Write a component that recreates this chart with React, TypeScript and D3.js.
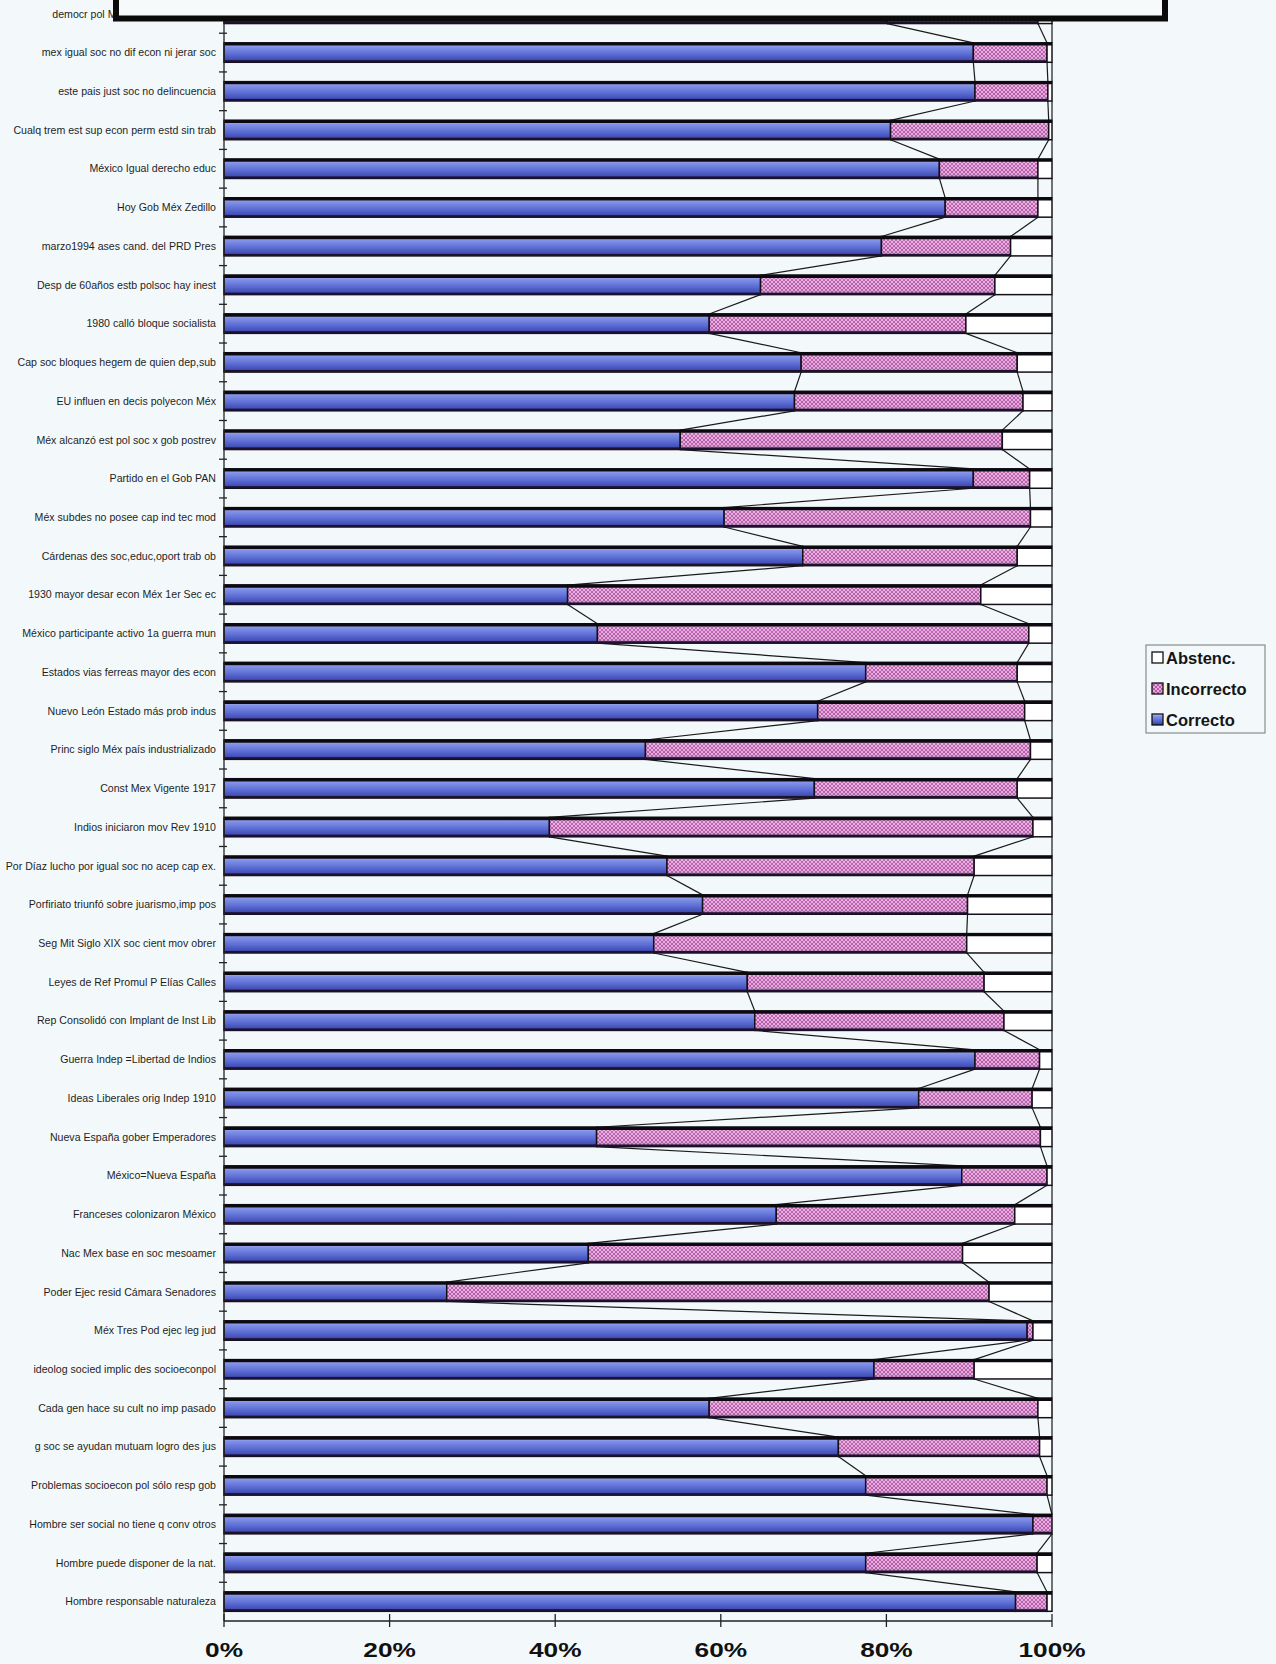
import React, { useEffect, useRef } from 'react'
import * as d3 from 'd3'

// categories, top to bottom (as printed)
const categories = [
  'democr pol Méx elecc libres transp',
  'mex igual soc no dif econ ni jerar soc',
  'este pais just soc no delincuencia',
  'Cualq trem est sup econ perm estd sin trab',
  'México Igual derecho educ',
  'Hoy Gob Méx Zedillo',
  'marzo1994 ases cand. del PRD Pres',
  'Desp de 60años estb polsoc hay inest',
  '1980 calló bloque socialista',
  'Cap soc bloques hegem de quien dep,sub',
  'EU influen en decis polyecon Méx',
  'Méx alcanzó est pol soc x gob postrev',
  'Partido en el Gob PAN',
  'Méx subdes no posee cap ind tec mod',
  'Cárdenas des soc,educ,oport trab ob',
  '1930 mayor desar econ Méx 1er Sec ec',
  'México participante activo 1a guerra mun',
  'Estados vias ferreas mayor des econ',
  'Nuevo León Estado más prob indus',
  'Princ siglo Méx país industrializado',
  'Const Mex Vigente 1917',
  'Indios iniciaron mov Rev 1910',
  'Por Díaz lucho por igual soc no acep cap ex.',
  'Porfiriato triunfó sobre juarismo,imp pos',
  'Seg Mit Siglo XIX soc cient mov obrer',
  'Leyes de Ref Promul P Elías Calles',
  'Rep Consolidó con Implant de Inst Lib',
  'Guerra Indep =Libertad de Indios',
  'Ideas Liberales orig Indep 1910',
  'Nueva España gober Emperadores',
  'México=Nueva España',
  'Franceses colonizaron México',
  'Nac Mex base en soc mesoamer',
  'Poder Ejec resid Cámara Senadores',
  'Méx Tres Pod ejec leg jud',
  'ideolog socied implic des socioeconpol',
  'Cada gen hace su cult no imp pasado',
  'g soc se ayudan mutuam logro des jus',
  'Problemas socioecon pol sólo resp gob',
  'Hombre ser social no tiene q conv otros',
  'Hombre puede disponer de la nat.',
  'Hombre responsable naturaleza',
]

const correcto = [
  80.1, 90.5, 90.7, 80.5, 86.4, 87.1, 79.4, 64.8, 58.6, 69.7, 68.9, 55.1, 90.5, 60.4,
  69.9, 41.5, 45.1, 77.5, 71.7, 50.9, 71.3, 39.3, 53.5, 57.8, 51.9, 63.2, 64.1, 90.7,
  83.9, 45.0, 89.1, 66.7, 44.0, 26.9, 97.0, 78.5, 58.6, 74.2, 77.5, 97.7, 77.5, 95.6,
]
const incorrecto = [
  18.2, 8.9, 8.8, 19.1, 11.9, 11.2, 15.6, 28.3, 31.0, 26.1, 27.6, 38.9, 6.8, 37.0,
  25.9, 49.9, 52.1, 18.3, 25.0, 46.5, 24.5, 58.4, 37.1, 32.0, 37.8, 28.6, 30.1, 7.8,
  13.7, 53.6, 10.3, 28.8, 45.2, 65.5, 0.7, 12.1, 39.7, 24.3, 21.9, 2.3, 20.7, 3.8,
]
const abstenc = [
  1.7, 0.6, 0.5, 0.4, 1.7, 1.7, 5.0, 6.9, 10.4, 4.2, 3.5, 6.0, 2.7, 2.6,
  4.2, 8.6, 2.8, 4.2, 3.3, 2.6, 4.2, 2.3, 9.4, 10.2, 10.3, 8.2, 5.8, 1.5,
  2.4, 1.4, 0.6, 4.5, 10.8, 7.6, 2.3, 9.4, 1.7, 1.5, 0.6, 0.0, 1.8, 0.6,
]

const seriesNames = ['Correcto', 'Incorrecto', 'Abstenc.']
const xTickValues = [0, 20, 40, 60, 80, 100]

const W = 1276
const H = 1664
const BG = '#f3f9fb'
const FONT = 'Arial, "Liberation Sans", sans-serif'

export default function App() {
  const svgRef = useRef<SVGSVGElement>(null)

  useEffect(() => {
    if (!svgRef.current) return
    const svg = d3.select(svgRef.current)
    svg.selectAll('*').remove()

    const x = d3.scaleLinear().domain([0, 100]).range([224, 1052])
    const y = d3.scaleBand<string>()
      .domain(categories)
      .range([-5.5, 1621])
      .paddingInner(0.5)
      .paddingOuter(0.25)
    const bw = y.bandwidth()
    const step = y.step()

    const defs = svg.append('defs')

    // blue gradient for Correcto
    const blue = defs.append('linearGradient')
      .attr('id', 'blueGrad')
      .attr('x1', 0).attr('y1', 0).attr('x2', 0).attr('y2', 1)
    ;[
      [0, '#c4ccf7'], [0.2, '#8393e8'], [0.55, '#5f70d6'], [0.85, '#4250b8'], [1, '#1c1f5c'],
    ].forEach(([o, c]) => blue.append('stop').attr('offset', o as number).attr('stop-color', c as string))

    // pink hatch for Incorrecto
    const pink = defs.append('pattern')
      .attr('id', 'pinkHatch')
      .attr('patternUnits', 'userSpaceOnUse')
      .attr('width', 4).attr('height', 4)
    pink.append('rect').attr('width', 4).attr('height', 4).attr('fill', '#e6aade')
    pink.append('path')
      .attr('d', 'M0,0 L4,4 M4,0 L0,4')
      .attr('stroke', '#b052a2')
      .attr('stroke-width', 0.9)

    const shade = defs.append('linearGradient')
      .attr('id', 'shade')
      .attr('x1', 0).attr('y1', 0).attr('x2', 0).attr('y2', 1)
    shade.append('stop').attr('offset', 0).attr('stop-color', '#ffffff').attr('stop-opacity', 0.15)
    shade.append('stop').attr('offset', 0.65).attr('stop-color', '#ffffff').attr('stop-opacity', 0)
    shade.append('stop').attr('offset', 1).attr('stop-color', '#2a0830').attr('stop-opacity', 0.45)

    // background
    svg.append('rect').attr('width', W).attr('height', H).attr('fill', BG)

    const rows = categories.map((c, i) => {
      const c1 = correcto[i]
      const c2 = c1 + incorrecto[i]
      const c3 = c2 + abstenc[i]
      return { cat: c, bounds: [c1, c2, c3], segs: [[0, c1], [c1, c2], [c2, c3]] }
    })

    // series lines
    const sl = svg.append('g').attr('stroke', '#1a1a1a').attr('stroke-width', 1.2).attr('fill', 'none')
    for (let i = 0; i < rows.length - 1; i++) {
      for (let k = 0; k < 3; k++) {
        sl.append('line')
          .attr('x1', x(rows[i].bounds[k]))
          .attr('y1', (y(rows[i].cat) as number) + bw)
          .attr('x2', x(rows[i + 1].bounds[k]))
          .attr('y2', y(rows[i + 1].cat) as number)
      }
    }

    // bars
    const fills = ['url(#blueGrad)', 'url(#pinkHatch)', '#ffffff']
    const bars = svg.append('g')
    rows.forEach(r => {
      const top = y(r.cat) as number
      const g = bars.append('g')
      r.segs.forEach((s, k) => {
        const w = x(s[1]) - x(s[0])
        if (w <= 0) return
        g.append('rect')
          .attr('x', x(s[0])).attr('y', top)
          .attr('width', w).attr('height', bw)
          .attr('fill', fills[k])
        if (k === 1) {
          g.append('rect')
            .attr('x', x(s[0])).attr('y', top)
            .attr('width', w).attr('height', bw)
            .attr('fill', 'url(#shade)')
        }
        g.append('rect')
          .attr('x', x(s[0])).attr('y', top)
          .attr('width', w).attr('height', bw)
          .attr('fill', 'none')
          .attr('stroke', '#141018')
          .attr('stroke-width', 1.5)
      })
      // thick top edge and dark bottom edge
      g.append('line')
        .attr('x1', x(0)).attr('x2', x(100))
        .attr('y1', top + 1).attr('y2', top + 1)
        .attr('stroke', '#0c0a10').attr('stroke-width', 3.4)
      g.append('line')
        .attr('x1', x(0)).attr('x2', x(r.bounds[1]))
        .attr('y1', top + bw - 1).attr('y2', top + bw - 1)
        .attr('stroke', '#1d1030').attr('stroke-width', 2)
    })

    // y axis
    const ya = svg.append('g').attr('stroke', '#222').attr('stroke-width', 1.3)
    ya.append('line').attr('x1', x(0)).attr('x2', x(0)).attr('y1', -6).attr('y2', 1621)
    categories.forEach((c, i) => {
      const ty = (y(c) as number) + bw + (step - bw) / 2
      if (i === categories.length - 1) return
      ya.append('line').attr('x1', x(0) - 5).attr('x2', x(0) + 3).attr('y1', ty).attr('y2', ty)
    })

    // category labels
    svg.append('g')
      .selectAll('text')
      .data(categories)
      .join('text')
      .attr('x', 216)
      .attr('y', d => (y(d) as number) + bw / 2)
      .attr('dy', '0.35em')
      .attr('text-anchor', 'end')
      .attr('font-family', FONT)
      .attr('font-size', 10.6)
      .attr('fill', '#1e1e1e')
      .text(d => d)

    // x axis
    const xa = svg.append('g').attr('stroke', '#222').attr('stroke-width', 1.3)
    xa.append('line').attr('x1', x(0)).attr('x2', x(100)).attr('y1', 1621).attr('y2', 1621)
    xTickValues.forEach(t => {
      xa.append('line').attr('x1', x(t)).attr('x2', x(t)).attr('y1', 1614).attr('y2', 1627)
    })
    svg.append('g')
      .selectAll('text')
      .data(xTickValues)
      .join('text')
      .attr('transform', d => `translate(${x(d)},1657) scale(1.25,1)`)
      .attr('text-anchor', 'middle')
      .attr('font-family', FONT)
      .attr('font-weight', 'bold')
      .attr('font-size', 21)
      .attr('fill', '#111')
      .text(d => `${d}%`)

    // legend
    const legend = svg.append('g').attr('transform', 'translate(1146,645)')
    legend.append('rect')
      .attr('width', 119).attr('height', 88)
      .attr('fill', BG).attr('stroke', '#777').attr('stroke-width', 1)
    const legendOrder = [2, 1, 0]
    legendOrder.forEach((k, i) => {
      const cy = 13 + i * 31
      legend.append('rect')
        .attr('x', 6).attr('y', cy - 6)
        .attr('width', 11).attr('height', 11)
        .attr('fill', fills[k])
        .attr('stroke', '#111').attr('stroke-width', 1.3)
      legend.append('text')
        .attr('x', 20).attr('y', cy)
        .attr('dy', '0.36em')
        .attr('font-family', FONT)
        .attr('font-size', 16.5)
        .attr('font-weight', 'bold')
        .attr('fill', '#151515')
        .text(seriesNames[k])
    })

    // framed title box cut off at the top of the page
    svg.append('rect')
      .attr('x', 116).attr('y', -40)
      .attr('width', 1049).attr('height', 58.5)
      .attr('fill', '#f6fafb')
      .attr('stroke', '#0b0b0b').attr('stroke-width', 6)
  }, [])

  return (
    <svg
      ref={svgRef}
      width={W}
      height={H}
      style={{ position: 'absolute', left: 0, top: 0, display: 'block' }}
    />
  )
}
